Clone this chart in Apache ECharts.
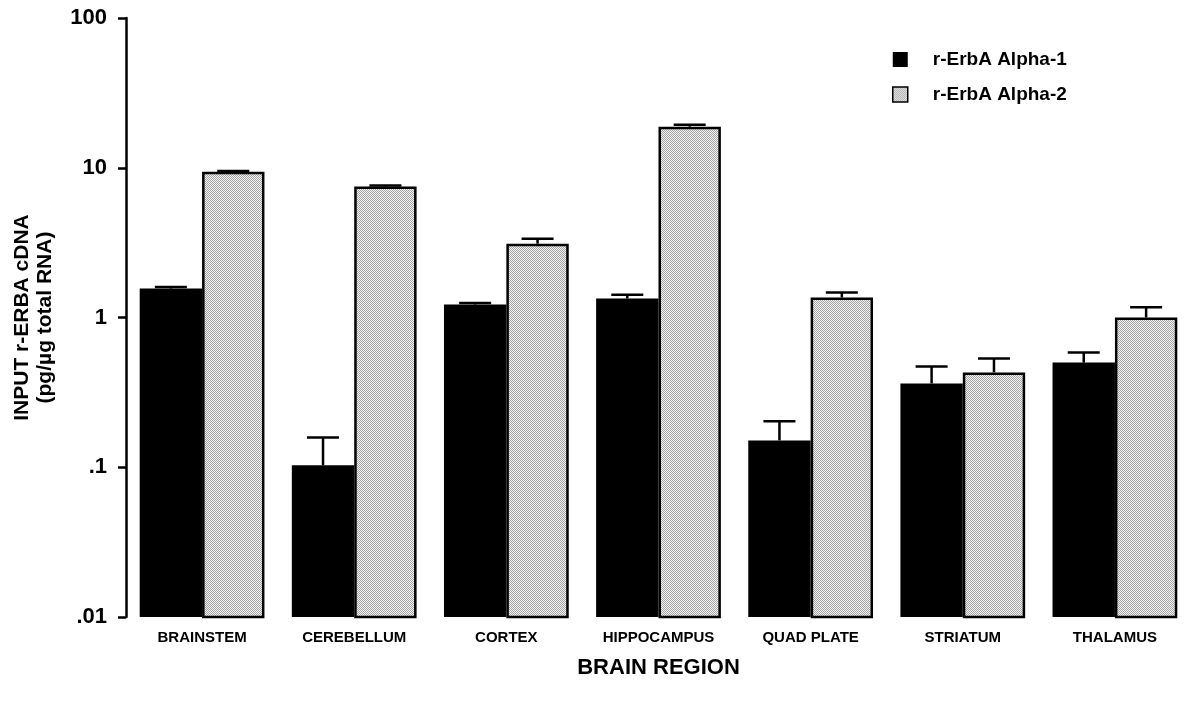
<!DOCTYPE html>
<html>
<head>
<meta charset="utf-8">
<script src="https://cdn.jsdelivr.net/npm/echarts@6/dist/echarts.min.js"></script>
<style>html,body{margin:0;padding:0;background:#fff;}#c{width:1196px;height:706px;}</style>
</head>
<body>
<div id="c"></div>
<script>
const categories = ['BRAINSTEM','CEREBELLUM','CORTEX','HIPPOCAMPUS','QUAD PLATE','STRIATUM','THALAMUS'];
const alpha1 = [1.56, 0.103, 1.22, 1.34, 0.151, 0.363, 0.50];
const alpha1Upper = [1.6, 0.158, 1.25, 1.42, 0.203, 0.471, 0.584];
const alpha2 = [9.4, 7.5, 3.11, 18.8, 1.36, 0.43, 1.0];
const alpha2Upper = [9.5, 7.6, 3.36, 19.4, 1.47, 0.533, 1.17];
const yTickLabels = {0.01:'.01', 0.1:'.1', 1:'1', 10:'10', 100:'100'};
const Y_MIN = 0.01, Y_MAX = 100;

const FONT = 'Liberation Sans';
const pc = document.createElement('canvas');
pc.width = 2; pc.height = 2;
const g = pc.getContext('2d');
g.fillStyle = '#f2f2f2'; g.fillRect(0,0,2,2);
g.fillStyle = '#a4a4a4'; g.fillRect(0,0,1,1); g.fillRect(1,1,1,1);
const pattern = {image: pc, repeat: 'repeat'};

const CAT_GAP = 0.18;
const BORDER = 2.5;

function barItem(sign, vals, style) {
  return function (params, api) {
    const idx = api.value(0);
    const band = api.size([1, 0])[0];
    const barW = band * (1 - CAT_GAP) / 2;
    const top = api.coord([idx, vals[idx]]);
    const bot = api.coord([idx, Y_MIN]);
    const x0 = sign < 0 ? top[0] - barW : top[0];
    const ins = style.lineWidth ? style.lineWidth / 2 : 0;
    return {
      type: 'rect',
      shape: {x: x0 + ins, y: top[1] + ins, width: barW - 2*ins, height: bot[1] - top[1] - ins},
      style: style
    };
  };
}

function errItem(sign, vals, uppers) {
  return function (params, api) {
    const idx = api.value(0);
    const band = api.size([1, 0])[0];
    const barW = band * (1 - CAT_GAP) / 2;
    const base = api.coord([idx, vals[idx]]);
    const top = api.coord([idx, uppers[idx]]);
    const x = base[0] + sign * barW / 2;
    const capHalf = 16;
    return {
      type: 'group',
      children: [
        {type:'line', shape:{x1:x, y1:base[1], x2:x, y2:top[1]}, style:{stroke:'#000', lineWidth:2.5}},
        {type:'line', shape:{x1:x-capHalf, y1:top[1], x2:x+capHalf, y2:top[1]}, style:{stroke:'#000', lineWidth:2.5}}
      ]
    };
  };
}

const chart = echarts.init(document.getElementById('c'));
chart.setOption({
  animation: false,
  backgroundColor: '#fff',
  grid: {left: 126, right: 5, top: 18, bottom: 89, containLabel: false, outerBoundsMode: 'none'},
  legend: {
    orient: 'vertical', left: 887, top: 45, itemWidth: 15, itemHeight: 15, itemGap: 16,
    textStyle: {fontFamily: FONT, fontWeight: 'bold', fontSize: 19, color: '#000', padding: [0,0,0,20]},
    data: [
      {name: 'r-ErbA Alpha-1', icon: 'rect', itemStyle: {color: '#000', borderWidth: 0}},
      {name: 'r-ErbA Alpha-2', icon: 'rect', itemStyle: {color: pattern, borderColor: '#000', borderWidth: 1.5}}
    ]
  },
  xAxis: {
    type: 'category', data: categories,
    axisLine: {show: false}, axisTick: {show: false},
    axisLabel: {interval: 0, fontFamily: FONT, fontWeight: 'bold', fontSize: 15, color: '#000', margin: 13},
    name: 'BRAIN REGION', nameLocation: 'middle', nameGap: 40,
    nameTextStyle: {fontFamily: FONT, fontWeight: 'bold', fontSize: 22, color: '#000'}
  },
  yAxis: {
    type: 'log', logBase: 10, min: Y_MIN, max: Y_MAX,
    axisLine: {show: true, lineStyle: {color: '#000', width: 2.5}},
    axisTick: {show: true, length: 8, lineStyle: {color: '#000', width: 2.5}},
    splitLine: {show: false},
    axisLabel: {fontFamily: FONT, fontWeight: 'bold', fontSize: 22, color: '#000', margin: 19,
      formatter: v => yTickLabels[+(+v).toPrecision(3)] !== undefined ? yTickLabels[+(+v).toPrecision(3)] : ''},
    name: 'INPUT r-ERBA cDNA\n(pg/\u00b5g total RNA)', nameLocation: 'middle', nameGap: 69,
    nameTextStyle: {fontFamily: FONT, fontWeight: 'bold', fontSize: 21, color: '#000', lineHeight: 23}
  },
  series: [
    {name: 'r-ErbA Alpha-1', type: 'custom', data: categories.map((c,i)=>[i, alpha1[i]]),
      itemStyle: {color: '#000'},
      renderItem: barItem(-1, alpha1, {fill: '#000'}), z: 2},
    {name: 'r-ErbA Alpha-2', type: 'custom', data: categories.map((c,i)=>[i, alpha2[i]]),
      itemStyle: {color: pattern, borderColor: '#000', borderWidth: BORDER},
      renderItem: barItem(1, alpha2, {fill: pattern, stroke: '#000', lineWidth: BORDER}), z: 2},
    {type: 'custom', data: categories.map((c,i)=>[i, alpha1Upper[i]]), renderItem: errItem(-1, alpha1, alpha1Upper), z: 5, silent: true},
    {type: 'custom', data: categories.map((c,i)=>[i, alpha2Upper[i]]), renderItem: errItem(1, alpha2, alpha2Upper), z: 5, silent: true}
  ]
});
</script>
</body>
</html>
